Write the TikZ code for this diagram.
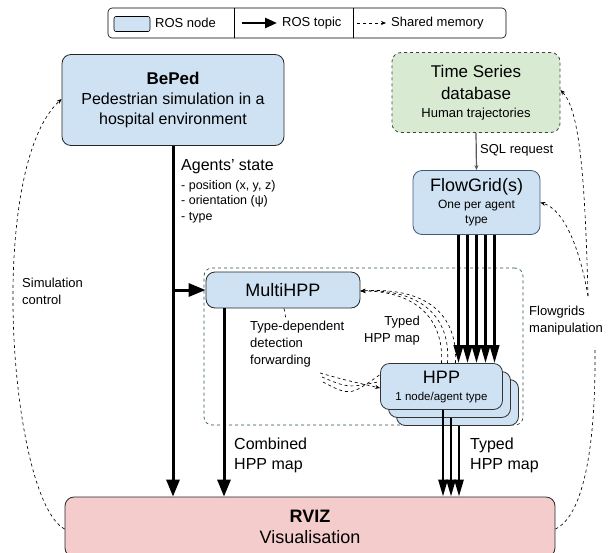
\documentclass[tikz,border=0pt]{standalone}
\usepackage{fontspec}
\setmainfont{Liberation Sans}
\usetikzlibrary{arrows.meta,positioning}

\definecolor{nodeblue}{HTML}{CFE2F3}
\definecolor{dbgreen}{HTML}{D9EAD3}
\definecolor{rvizred}{HTML}{F4CCCC}
\definecolor{groupc}{HTML}{27505C}
\definecolor{flowc}{HTML}{3D5A7A}

\begin{document}
\begin{tikzpicture}[x=1pt,y=-1pt,
    rosnode/.style={draw=black!85,fill=nodeblue,rounded corners=9pt,line width=0.8pt,align=center,inner sep=0pt},
    topic/.style={-{Triangle[length=17pt,width=13pt]},line width=3pt},
    fgtopic/.style={-{Triangle[length=18pt,width=9.5pt]},line width=2.6pt},
    shm/.style={-{Stealth[length=5pt,width=4pt]},dashed,line width=0.65pt},
    lbl/.style={align=left,inner sep=0pt,anchor=north west,font=\fontsize{13}{17}\selectfont}]
    \useasboundingbox (0,0) rectangle (613,552);

    % legend
    \node[draw,rounded corners=4pt,line width=0.6pt,minimum width=398pt,minimum height=30pt] (legend) at (307,23) {};
    \draw[line width=0.6pt] (234,8) -- (234,38);
    \draw[line width=0.6pt] (353,8) -- (353,38);
    \node[draw,fill=nodeblue,rounded corners=2pt,line width=0.6pt,minimum width=36pt,minimum height=15pt] (swatch) at (132,24) {};
    \node[lbl,anchor=west] (lgnode) at (155,23) {ROS node};
    \coordinate (lgA) at (242,23);
    \coordinate (lgA2) at (277,23);
    \node[lbl,anchor=west] (lgtopic) at (282,23) {ROS topic};
    \draw[-{Triangle[length=12pt,width=10pt]},line width=2.5pt] (lgA) -- (lgA2);
    \coordinate (lgB) at (357,23);
    \coordinate (lgB2) at (386,23);
    \node[lbl,anchor=west] (lgshm) at (391,23) {Shared memory};
    \draw[shm] (lgB) -- (lgB2);

    % dashed group round the HPP nodes
    \node[draw=groupc,dashed,rounded corners=8pt,line width=0.7pt,minimum width=319pt,minimum height=157pt] (group) at (363.5,346.5) {};

    % nodes
    \node[rosnode,minimum width=222pt,minimum height=91pt,font=\fontsize{16}{20}\selectfont] (beped) at (173,100)
        {{\bfseries\fontsize{17}{20}\selectfont BePed}\\Pedestrian simulation in a\\hospital environment};
    \node[rosnode,draw=black!75,fill=dbgreen,dashed,minimum width=168pt,minimum height=80pt,font=\fontsize{17}{22}\selectfont] (tsdb) at (476,92.5)
        {Time Series\\database\\[-4pt]{\fontsize{13}{16}\selectfont Human trajectories}};
    \node[rosnode,draw=flowc,minimum width=127pt,minimum height=64pt,font=\fontsize{18}{20}\selectfont] (flowgrid) at (476.5,202.5)
        {FlowGrid(s)\\[-3pt]{\fontsize{12}{14}\selectfont One per agent}\\[-5pt]{\fontsize{12}{14}\selectfont type}};
    \node[rosnode,minimum width=154pt,minimum height=36pt,font=\fontsize{18}{20}\selectfont] (multihpp) at (283,290) {MultiHPP};
    \node[rosnode,draw=black!80,minimum width=122pt,minimum height=46pt] (hppc) at (457.5,402.5) {};
    \node[rosnode,draw=black!80,minimum width=122pt,minimum height=46pt] (hppb) at (449.5,394.5) {};
    \node[rosnode,draw=black!80,minimum width=122pt,minimum height=46pt,font=\fontsize{18}{20}\selectfont] (hpp) at (441.5,386.5)
        {HPP\\[-3pt]{\fontsize{11.5}{14}\selectfont 1 node/agent type}};
    \node[rosnode,draw=black!85,fill=rvizred,minimum width=490pt,minimum height=60pt,font=\fontsize{18}{21}\selectfont] (rviz) at (310,527)
        {{\bfseries RVIZ}\\Visualisation};

    % ROS topics
    \draw[topic] (beped.south) -- (beped.south |- rviz.north);
    \coordinate (split) at (beped.south |- multihpp.west);
    \draw[topic] (split) -- (multihpp.west);
    \draw[topic] ([xshift=-59pt]multihpp.south) -- ([xshift=-59pt]multihpp.south |- rviz.north);
    \foreach \dx in {-18,-9,0,9,18}
        \draw[fgtopic] ([xshift=\dx pt]flowgrid.south) -- ([xshift=\dx pt]flowgrid.south |- hpp.north);
    \draw[topic,-{Triangle[length=17pt,width=9pt]},line width=2.6pt] ([xshift=1.5pt]hppc.south) -- ([xshift=1.5pt]hppc.south |- rviz.north);
    \draw[topic,-{Triangle[length=17pt,width=9pt]},line width=2.6pt] ([xshift=1.5pt]hppb.south) -- ([xshift=1.5pt]hppb.south |- rviz.north);
    \draw[topic,-{Triangle[length=17pt,width=9pt]},line width=2.6pt] ([xshift=1.5pt]hpp.south) -- ([xshift=1.5pt]hpp.south |- rviz.north);
    \draw[-{Stealth[length=5pt,width=4pt]},black!65,line width=1.2pt] (tsdb.south) -- (flowgrid.north);

    % labels
    \node[lbl,font=\fontsize{16}{18}\selectfont] (agents) at (181,159) {Agents' state};
    \node[lbl,font=\fontsize{12.5}{15.5}\selectfont] (agentlist) at (181,180) {- position (x, y, z)\\- orientation (ψ)\\- type};
    \node[lbl] (simctrl) at (22,278) {Simulation\\control};
    \node[lbl] (sql) at (480,144) {SQL request};
    \node[lbl] (fgmanip) at (529,306) {Flowgrids\\manipulation};
    \node[lbl] (forward) at (250,321) {Type-dependent\\detection\\forwarding};
    \node[lbl,align=right,anchor=north east] (typedmid) at (420,316) {Typed\\HPP map};
    \node[lbl,font=\fontsize{16}{20}\selectfont] (combined) at (234,438) {Combined\\HPP map};
    \node[lbl,font=\fontsize{16}{20}\selectfont] (typedlow) at (470,438) {Typed\\HPP map};

    % shared memory
    \coordinate (fwdA) at (320,373);
    \coordinate (fwdB) at (322,377);
    \coordinate (fwdC) at (323,382);
    \draw[shm] (fwdA) .. controls (345,380) .. ([yshift=-1.5pt]hpp.west);
    \draw[shm,-] (fwdB) .. controls (348,388) .. ([yshift=5pt]hpp.west);
    \draw[shm,-] (fwdC) .. controls (350,396) .. ([yshift=12pt]hpp.west);
    \draw[shm] ([xshift=0pt]hpp.north) .. controls (444,318) and (415,291) .. ([yshift=-1pt]multihpp.east);
    \draw[shm] ([xshift=6pt]hpp.north) .. controls (451,316) and (420,289) .. ([yshift=-1pt]multihpp.east);
    \draw[shm] ([xshift=14pt]hpp.north) .. controls (458,313) and (425,287) .. ([yshift=-1pt]multihpp.east);
    \draw[shm,-] ([xshift=1pt]multihpp.south) -- ++(2,11);
    \draw[shm] ([yshift=-2pt]rviz.west) .. controls (10,500) and (-15,170) .. ([yshift=1pt]beped.west);
    \draw[shm,-] ([yshift=-2pt]rviz.east) .. controls (585,515) and (596,440) .. (595,347);
    \draw[shm] (588,296) .. controls (585,180) and (580,110) .. ([yshift=2.5pt]tsdb.east);
    \draw[shm] (588,296) .. controls (580,250) and (565,210) .. (flowgrid.east);
\end{tikzpicture}
\end{document}
